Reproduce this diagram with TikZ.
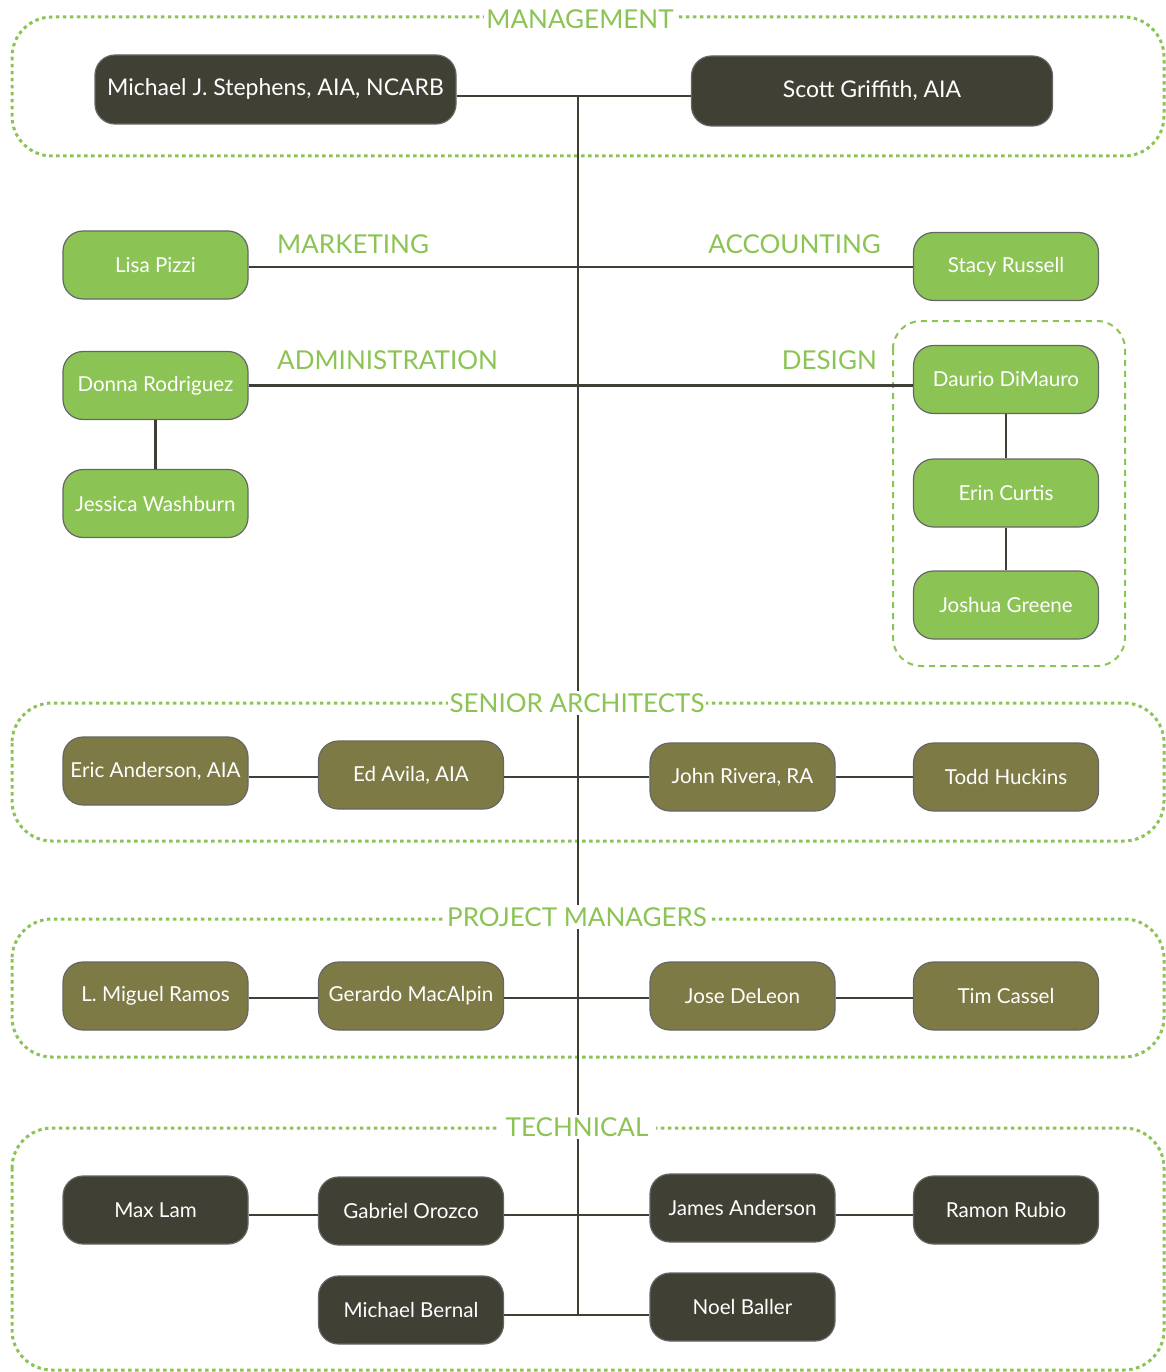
\documentclass[tikz,border=0pt]{standalone}
\usepackage{fontspec}
\setmainfont{Lato}
\usepackage{tikz}
\usetikzlibrary{positioning}

\definecolor{boxdark}{HTML}{414034}
\definecolor{boxgreen}{HTML}{8BC454}
\definecolor{boxolive}{HTML}{7D7A45}
\definecolor{linkgray}{HTML}{3F3F35}

\begin{document}
\begin{tikzpicture}[x=1pt,y=-1pt,
	person/.style={draw=black!60, line width=1.2pt, rounded corners=20pt, text=white, minimum width=185, minimum height=68, font=\fontsize{20.6}{24}\selectfont},
	darkbox/.style={person, fill=boxdark},
	greenbox/.style={person, fill=boxgreen},
	olivebox/.style={person, fill=boxolive},
	link/.style={draw=linkgray, line width=2.2pt},
	groupframe/.style={draw=boxgreen, line width=3pt, dash pattern=on 3.5pt off 3.5pt, rounded corners=40pt},
	grouplabel/.style={fill=white, text=boxgreen, inner sep=2pt, font=\fontsize{26}{29}\selectfont},
	deptlabel/.style={text=boxgreen, inner sep=0pt, font=\fontsize{26}{29}\selectfont}]
\useasboundingbox (0,0) rectangle (1166,1372);
	\draw[groupframe] (12,17) rectangle (1164,156);
	\draw[groupframe] (12,703) rectangle (1164,841);
	\draw[groupframe] (12,919) rectangle (1164,1057);
	\draw[groupframe] (12,1128) rectangle (1164,1370);
	\draw[draw=boxgreen, line width=2pt, dash pattern=on 6pt off 5pt, rounded corners=28pt] (893,321) rectangle (1125,666);
	\coordinate (top) at (578,96);
	\coordinate (bottom) at (578,1315);
	\coordinate (mrow) at (0,267);
	\coordinate (srow) at (0,777);
	\coordinate (prow) at (0,998);
	\coordinate (trow) at (0,1215);
	\draw[link] (top) -- (bottom);
	% management
	\node[darkbox, minimum width=361, minimum height=69, font=\fontsize{23}{26}\selectfont] (stephens) at (275.5,89.5) {Michael J. Stephens, AIA, NCARB};
	\node[darkbox, minimum width=361, minimum height=70, font=\fontsize{23}{26}\selectfont] (griffith) at (872,91) {Scott Griffith, AIA};
	\node[grouplabel] (mgmt) at (580,19) {MANAGEMENT};
	% departments
	\node[greenbox] (pizzi) at (155.5,265) {Lisa Pizzi};
	\node[greenbox] (russell) at (1006,266.5) {Stacy Russell};
	\node[greenbox] (rodriguez) at (155.5,385.5) {Donna Rodriguez};
	\node[greenbox] (washburn) at (155.5,503.5) {Jessica Washburn};
	\node[greenbox] (dimauro) at (1006,379.5) {Daurio DiMauro};
	\node[greenbox] (curtis) at (1006,493) {Erin Curtis};
	\node[greenbox] (greene) at (1006,605) {Joshua Greene};
	\node[deptlabel, anchor=west] (mkt) at (277,244) {MARKETING};
	\node[deptlabel, anchor=east] (acct) at (881,244) {ACCOUNTING};
	\node[deptlabel, anchor=west] (admin) at (277,360) {ADMINISTRATION};
	\node[deptlabel, anchor=east] (design) at (877,360) {DESIGN};
	% senior architects
	\node[olivebox] (anderson) at (155.5,771) {Eric Anderson, AIA};
	\node[olivebox] (avila) at (411,775) {Ed Avila, AIA};
	\node[olivebox] (rivera) at (742.5,777) {John Rivera, RA};
	\node[olivebox] (huckins) at (1006,777) {Todd Huckins};
	\node[grouplabel] (senior) at (577,703) {SENIOR ARCHITECTS};
	% project managers
	\node[olivebox] (ramos) at (155.5,996) {L. Miguel Ramos};
	\node[olivebox] (macalpin) at (411,996) {Gerardo MacAlpin};
	\node[olivebox] (deleon) at (742.5,996) {Jose DeLeon};
	\node[olivebox] (cassel) at (1006,996) {Tim Cassel};
	\node[grouplabel] (pm) at (577,917) {PROJECT MANAGERS};
	% technical
	\node[darkbox] (lam) at (155.5,1210) {Max Lam};
	\node[darkbox] (orozco) at (411,1211) {Gabriel Orozco};
	\node[darkbox] (janderson) at (742.5,1208) {James Anderson};
	\node[darkbox] (rubio) at (1006,1210) {Ramon Rubio};
	\node[darkbox] (bernal) at (411,1310) {Michael Bernal};
	\node[darkbox] (baller) at (742.5,1307) {Noel Baller};
	\node[grouplabel, inner xsep=8pt] (tech) at (577,1127) {TECHNICAL};
	% connectors
	\draw[link] (stephens.east |- top) -- (griffith.west |- top);
	\draw[link] (pizzi.east |- mrow) -- (russell.west |- mrow);
	\draw[link] (rodriguez.east) -- (rodriguez.east -| dimauro.west);
	\draw[link] (rodriguez) -- (washburn);
	\draw[link] (dimauro) -- (curtis);
	\draw[link] (curtis) -- (greene);
	\foreach \a/\b in {anderson/avila, avila/rivera, rivera/huckins}
		\draw[link] (\a.east |- srow) -- (\b.west |- srow);
	\foreach \a/\b in {ramos/macalpin, macalpin/deleon, deleon/cassel}
		\draw[link] (\a.east |- prow) -- (\b.west |- prow);
	\foreach \a/\b in {lam/orozco, orozco/janderson, janderson/rubio}
		\draw[link] (\a.east |- trow) -- (\b.west |- trow);
	\draw[link] (bernal.east |- bottom) -- (baller.west |- bottom);
\end{tikzpicture}
\end{document}
